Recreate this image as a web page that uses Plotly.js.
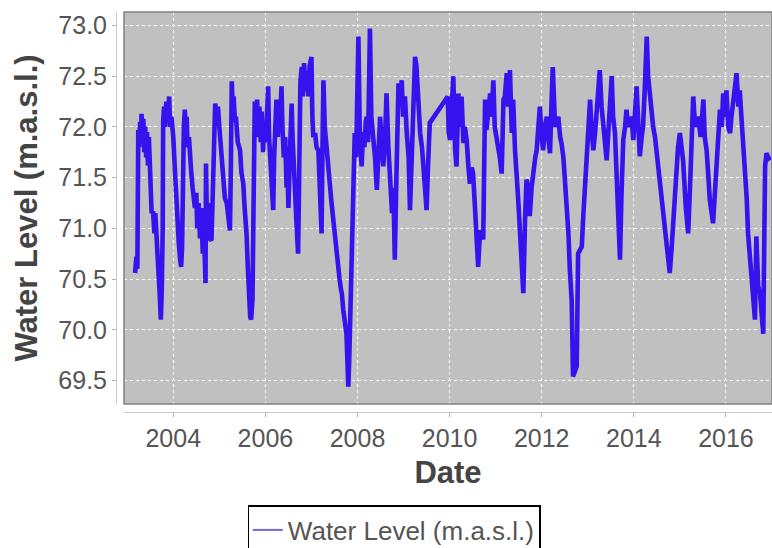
<!DOCTYPE html>
<html>
<head>
<meta charset="utf-8">
<script src="https://cdn.plot.ly/plotly-3.0.1.min.js"></script>
<style>
  html, body { margin: 0; padding: 0; background: #ffffff; }
  #chart { width: 772px; height: 548px; }
</style>
</head>
<body>
<div id="chart"></div>
<script>
// Decimal year of each reading
const years = [
  2003.17, 2003.19, 2003.20, 2003.22, 2003.24, 2003.26, 2003.28, 2003.30, 2003.31, 2003.33,
  2003.35, 2003.37, 2003.39, 2003.41, 2003.43, 2003.45, 2003.47, 2003.49, 2003.51, 2003.53,
  2003.56, 2003.59, 2003.61, 2003.64, 2003.66, 2003.68, 2003.70, 2003.72, 2003.73, 2003.75,
  2003.77, 2003.78, 2003.80, 2003.82, 2003.85, 2003.88, 2003.91, 2003.93, 2003.96, 2004.00,
  2004.02, 2004.05, 2004.07, 2004.10, 2004.12, 2004.15, 2004.17, 2004.19, 2004.21, 2004.23,
  2004.25, 2004.27, 2004.29, 2004.31, 2004.34, 2004.36, 2004.39, 2004.42, 2004.45, 2004.47,
  2004.50, 2004.52, 2004.55, 2004.58, 2004.61, 2004.64, 2004.67, 2004.70, 2004.71, 2004.73,
  2004.76, 2004.79, 2004.83, 2004.85, 2004.88, 2004.91, 2004.94, 2004.97, 2005.00, 2005.03,
  2005.06, 2005.09, 2005.12, 2005.16, 2005.19, 2005.23, 2005.25, 2005.27, 2005.29, 2005.31,
  2005.34, 2005.36, 2005.40, 2005.45, 2005.48, 2005.52, 2005.55, 2005.59, 2005.62, 2005.65,
  2005.67, 2005.69, 2005.72, 2005.75, 2005.77, 2005.80, 2005.82, 2005.85, 2005.87, 2005.90,
  2005.92, 2005.95, 2005.98, 2006.01, 2006.04, 2006.06, 2006.08, 2006.10, 2006.13, 2006.15,
  2006.17, 2006.19, 2006.22, 2006.24, 2006.27, 2006.29, 2006.31, 2006.35, 2006.37, 2006.40,
  2006.43, 2006.46, 2006.48, 2006.50, 2006.53, 2006.57, 2006.59, 2006.61, 2006.64, 2006.67,
  2006.69, 2006.71, 2006.73, 2006.76, 2006.79, 2006.81, 2006.84, 2006.87, 2006.90, 2006.93,
  2006.96, 2007.00, 2007.02, 2007.04, 2007.08, 2007.11, 2007.15, 2007.19, 2007.22, 2007.24,
  2007.26, 2007.29, 2007.33, 2007.37, 2007.40, 2007.43, 2007.46, 2007.49, 2007.52, 2007.55,
  2007.58, 2007.61, 2007.64, 2007.66, 2007.69, 2007.72, 2007.76, 2007.78, 2007.80, 2007.82,
  2007.85, 2007.88, 2007.91, 2007.94, 2007.97, 2008.00, 2008.02, 2008.05, 2008.09, 2008.12,
  2008.15, 2008.18, 2008.20, 2008.23, 2008.25, 2008.27, 2008.30, 2008.34, 2008.38, 2008.42,
  2008.45, 2008.49, 2008.52, 2008.56, 2008.60, 2008.63, 2008.67, 2008.71, 2008.75, 2008.78,
  2008.81, 2008.84, 2008.87, 2008.89, 2008.92, 2008.96, 2008.99, 2009.03, 2009.07, 2009.11,
  2009.14, 2009.18, 2009.21, 2009.25, 2009.28, 2009.32, 2009.36, 2009.40, 2009.43, 2009.47,
  2009.50, 2009.53, 2009.57, 2009.96, 2009.98, 2010.01, 2010.04, 2010.08, 2010.12, 2010.15,
  2010.19, 2010.22, 2010.26, 2010.30, 2010.33, 2010.37, 2010.41, 2010.44, 2010.48, 2010.51,
  2010.55, 2010.59, 2010.62, 2010.66, 2010.70, 2010.73, 2010.77, 2010.80, 2010.84, 2010.88,
  2010.91, 2010.95, 2010.98, 2011.02, 2011.06, 2011.09, 2011.13, 2011.17, 2011.20, 2011.24,
  2011.27, 2011.31, 2011.35, 2011.38, 2011.42, 2011.45, 2011.49, 2011.53, 2011.56, 2011.60,
  2011.64, 2011.67, 2011.71, 2011.74, 2011.78, 2011.82, 2011.86, 2011.89, 2011.93, 2011.96,
  2012.00, 2012.03, 2012.07, 2012.11, 2012.14, 2012.18, 2012.21, 2012.24, 2012.29, 2012.32,
  2012.36, 2012.40, 2012.43, 2012.47, 2012.50, 2012.54, 2012.58, 2012.61, 2012.65, 2012.68,
  2012.72, 2012.76, 2012.79, 2012.83, 2012.87, 2012.90, 2012.94, 2012.97, 2013.01, 2013.05,
  2013.08, 2013.12, 2013.16, 2013.19, 2013.23, 2013.26, 2013.30, 2013.34, 2013.37, 2013.41,
  2013.44, 2013.48, 2013.52, 2013.55, 2013.59, 2013.62, 2013.66, 2013.70, 2013.73, 2013.77,
  2013.81, 2013.84, 2013.88, 2013.95, 2013.99, 2014.02, 2014.06, 2014.10, 2014.13, 2014.17,
  2014.20, 2014.24, 2014.28, 2014.31, 2014.35, 2014.38, 2014.42, 2014.46, 2014.49, 2014.53,
  2014.57, 2014.60, 2014.64, 2014.67, 2014.71, 2014.75, 2014.78, 2014.82, 2014.86, 2014.89,
  2014.93, 2014.96, 2015.00, 2015.04, 2015.07, 2015.13, 2015.18, 2015.22, 2015.26, 2015.29,
  2015.33, 2015.40, 2015.45, 2015.51, 2015.54, 2015.58, 2015.62, 2015.65, 2015.72, 2015.76,
  2015.80, 2015.83, 2015.87, 2015.91, 2015.94, 2015.98, 2016.01, 2016.05, 2016.09, 2016.12,
  2016.16, 2016.19, 2016.23, 2016.27, 2016.30, 2016.34, 2016.38, 2016.41, 2016.45, 2016.48,
  2016.52, 2016.56, 2016.59, 2016.63, 2016.66, 2016.70, 2016.74, 2016.77, 2016.81, 2016.85,
  2016.88, 2016.92, 2016.96
];

// Water level (m.a.s.l.) read at each date
const waterLevel = [
  70.56, 70.62, 70.72, 70.60, 71.97, 71.80, 72.05, 71.85, 72.13, 71.90,
  72.08, 71.75, 72.00, 71.70, 71.95, 71.62, 71.90, 71.55, 71.20, 71.15,
  71.17, 70.95, 71.15, 70.80, 70.70, 70.55, 70.40, 70.20, 70.10, 70.40,
  71.00, 72.05, 72.20, 72.00, 72.25, 72.05, 72.30, 72.00, 72.10, 71.90,
  71.60, 71.45, 71.28, 70.95, 70.85, 70.69, 70.62, 70.80, 71.60, 72.00,
  72.17, 71.95, 72.10, 71.80, 71.90, 71.70, 71.55, 71.40, 71.30, 71.20,
  71.35, 71.00, 71.25, 70.90, 71.20, 70.75, 70.90, 70.46, 71.64, 71.10,
  71.25, 70.90, 70.88, 71.30, 71.60, 72.23, 72.10, 72.20, 72.00, 71.80,
  71.60, 71.50, 71.30, 71.25, 71.10, 70.98, 71.60, 72.45, 72.20, 72.30,
  72.05, 72.10, 71.85, 71.77, 71.55, 71.44, 71.20, 70.95, 70.60, 70.20,
  70.13, 70.10, 70.30, 71.50, 72.25, 72.00, 72.27, 71.90, 72.20, 71.85,
  72.15, 71.75, 72.05, 71.85, 72.10, 72.40, 71.90, 71.70, 71.50, 71.35,
  71.18, 71.70, 72.10, 72.27, 71.90, 72.25, 71.95, 72.40, 72.00, 71.70,
  71.90, 71.40, 71.60, 71.20, 71.70, 72.23, 71.90, 71.60, 71.40, 71.10,
  70.90, 70.75, 71.40, 72.45, 72.59, 72.30, 72.63, 72.35, 72.55, 72.30,
  72.60, 72.69, 72.10, 71.90, 71.94, 71.80, 71.77, 71.40, 70.95, 71.80,
  72.46, 72.00, 71.77, 71.50, 71.40, 71.28, 71.15, 71.00, 70.85, 70.69,
  70.60, 70.50, 70.40, 70.36, 70.20, 70.10, 69.96, 69.70, 69.44, 69.70,
  70.29, 71.00, 71.60, 71.94, 71.70, 72.20, 72.89, 71.90, 71.61, 71.95,
  71.80, 72.05, 72.10, 71.85, 72.40, 72.97, 72.10, 71.94, 71.70, 71.38,
  71.80, 72.10, 71.90, 71.61, 71.90, 72.33, 71.80, 71.44, 71.15, 71.40,
  70.69, 71.40, 72.20, 72.43, 72.20, 72.46, 72.10, 72.30, 71.94, 71.70,
  71.18, 71.70, 72.00, 72.69, 72.60, 72.20, 71.94, 71.80, 71.61, 71.40,
  71.18, 71.60, 72.04, 72.30, 71.95, 71.87, 72.20, 72.50, 71.77, 71.61,
  72.33, 72.00, 72.30, 71.84, 72.00, 71.87, 71.60, 71.44, 71.60, 71.54,
  71.21, 70.95, 70.62, 70.98, 70.95, 70.89, 72.27, 71.97, 72.20, 72.33,
  72.10, 72.46, 72.00, 71.90, 71.77, 71.70, 71.54, 72.27, 72.30, 72.53,
  72.20, 72.56, 71.94, 72.27, 71.77, 71.60, 71.28, 70.95, 70.70, 70.36,
  71.12, 71.48, 71.41, 71.12, 71.40, 71.61, 71.70, 71.77, 72.00, 72.20,
  71.90, 71.77, 72.00, 72.10, 71.90, 71.74, 72.20, 72.59, 72.00, 72.05,
  72.10, 71.90, 71.84, 71.70, 71.51, 71.20, 70.95, 70.60, 70.29, 69.54,
  69.60, 69.64, 70.75, 70.80, 70.82, 71.10, 71.41, 71.67, 72.00, 72.27,
  72.00, 71.77, 71.95, 72.10, 72.30, 72.56, 72.20, 72.00, 71.80, 71.67,
  71.90, 72.17, 72.50, 72.10, 71.94, 71.60, 71.21, 70.69, 71.30, 71.87,
  72.00, 72.17, 72.00, 72.10, 71.87, 72.10, 72.40, 72.00, 71.71, 71.90,
  72.00, 72.40, 72.89, 72.50, 72.27, 72.10, 72.00, 71.90, 71.77, 71.60,
  71.51, 71.30, 71.12, 71.00, 70.89, 70.70, 70.56, 70.80, 71.12, 71.40,
  71.61, 71.80, 71.94, 71.80, 71.67, 71.20, 70.95, 71.41, 71.90, 72.30,
  72.00, 72.10, 71.90, 72.27, 71.90, 71.77, 71.50, 71.28, 71.05, 71.40,
  71.61, 71.90, 72.17, 72.00, 72.33, 72.10, 72.36, 72.00, 71.94, 72.10,
  72.27, 72.30, 72.53, 72.20, 72.36, 72.07, 71.80, 71.54, 71.30, 70.95,
  70.70, 70.56, 70.30, 70.10, 70.92, 70.43, 70.36, 70.20, 69.96, 71.61,
  71.74, 71.70, 71.67
];

const xTickVals = [2004, 2006, 2008, 2010, 2012, 2014, 2016];
const xTickText = ['2004', '2006', '2008', '2010', '2012', '2014', '2016'];
const yTickVals = [69.5, 70.0, 70.5, 71.0, 71.5, 72.0, 72.5, 73.0];
const yTickText = ['69.5', '70.0', '70.5', '71.0', '71.5', '72.0', '72.5', '73.0'];

const seriesName = 'Water Level (m.a.s.l.)';
const xTitle = 'Date';
const yTitle = 'Water Level (m.a.s.l.)';

const FONT = '"Liberation Sans", Arial, sans-serif';

// the measured series (drawn); its legend key is the entry below
const dataTrace = {
  type: 'scatter',
  mode: 'lines',
  x: years,
  y: waterLevel,
  name: seriesName,
  legendgroup: 'wl',
  line: { color: '#3512ee', width: 4.6 },
  showlegend: false
};

// legend key for the same series (first reading only, so it adds no visible mark),
// drawn with the thin key line of the original legend
const legendKey = {
  type: 'scatter',
  mode: 'lines',
  x: years.slice(0, 1),
  y: waterLevel.slice(0, 1),
  name: seriesName,
  legendgroup: 'wl',
  line: { color: '#7466e6', width: 2 },
  showlegend: true,
  hoverinfo: 'skip'
};

const layout = {
  width: 772,
  height: 548,
  margin: { l: 116, r: 0, t: 12, b: 136, pad: 0, autoexpand: false },
  paper_bgcolor: '#ffffff',
  plot_bgcolor: '#c0c0c0',
  font: { family: FONT, color: '#555555', size: 25 },
  showlegend: true,
  xaxis: {
    domain: [0.0122, 1],
    anchor: 'free',
    position: 0,
    range: [2002.93, 2017.0],
    tickmode: 'array',
    tickvals: xTickVals,
    ticktext: xTickText,
    ticks: 'outside',
    ticklen: 4,
    tickwidth: 1,
    tickcolor: '#b0b0b0',
    showline: true,
    linecolor: '#c8c8c8',
    linewidth: 1,
    showgrid: true,
    gridcolor: '#ffffff',
    gridwidth: 1,
    griddash: '3px,3px',
    zeroline: false,
    tickfont: { family: FONT, size: 25, color: '#555555' },
    title: { text: xTitle, font: { family: FONT, size: 31, color: '#444444', weight: 'bold' }, standoff: 10 },
    automargin: false
  },
  yaxis: {
    domain: [0.02, 1],
    anchor: 'free',
    position: 0,
    range: [69.268, 73.133],
    tickmode: 'array',
    tickvals: yTickVals,
    ticktext: yTickText,
    ticks: 'outside',
    ticklen: 4,
    tickwidth: 1,
    tickcolor: '#b0b0b0',
    showline: true,
    linecolor: '#c8c8c8',
    linewidth: 1,
    showgrid: true,
    gridcolor: '#ffffff',
    gridwidth: 1,
    griddash: '3px,3px',
    zeroline: false,
    tickfont: { family: FONT, size: 25, color: '#555555' },
    title: { text: yTitle, font: { family: FONT, size: 31, color: '#444444', weight: 'bold' }, standoff: 10 },
    automargin: false
  },
  shapes: [
    {
      type: 'rect', xref: 'x domain', yref: 'y domain',
      x0: 0, x1: 1, y0: 0, y1: 1,
      line: { color: '#808080', width: 1.5 },
      fillcolor: 'rgba(0,0,0,0)',
      layer: 'above'
    }
  ],
  legend: {
    orientation: 'h',
    x: 0.201, xanchor: 'left', xref: 'paper',
    y: -0.2325, yanchor: 'top', yref: 'paper',
    bgcolor: '#ffffff',
    bordercolor: '#000000',
    borderwidth: 1.5,
    font: { family: FONT, size: 26, color: '#555555' },
    itemwidth: 30
  }
};

Plotly.newPlot('chart', [dataTrace, legendKey], layout, { displayModeBar: false, staticPlot: true });
</script>
</body>
</html>
